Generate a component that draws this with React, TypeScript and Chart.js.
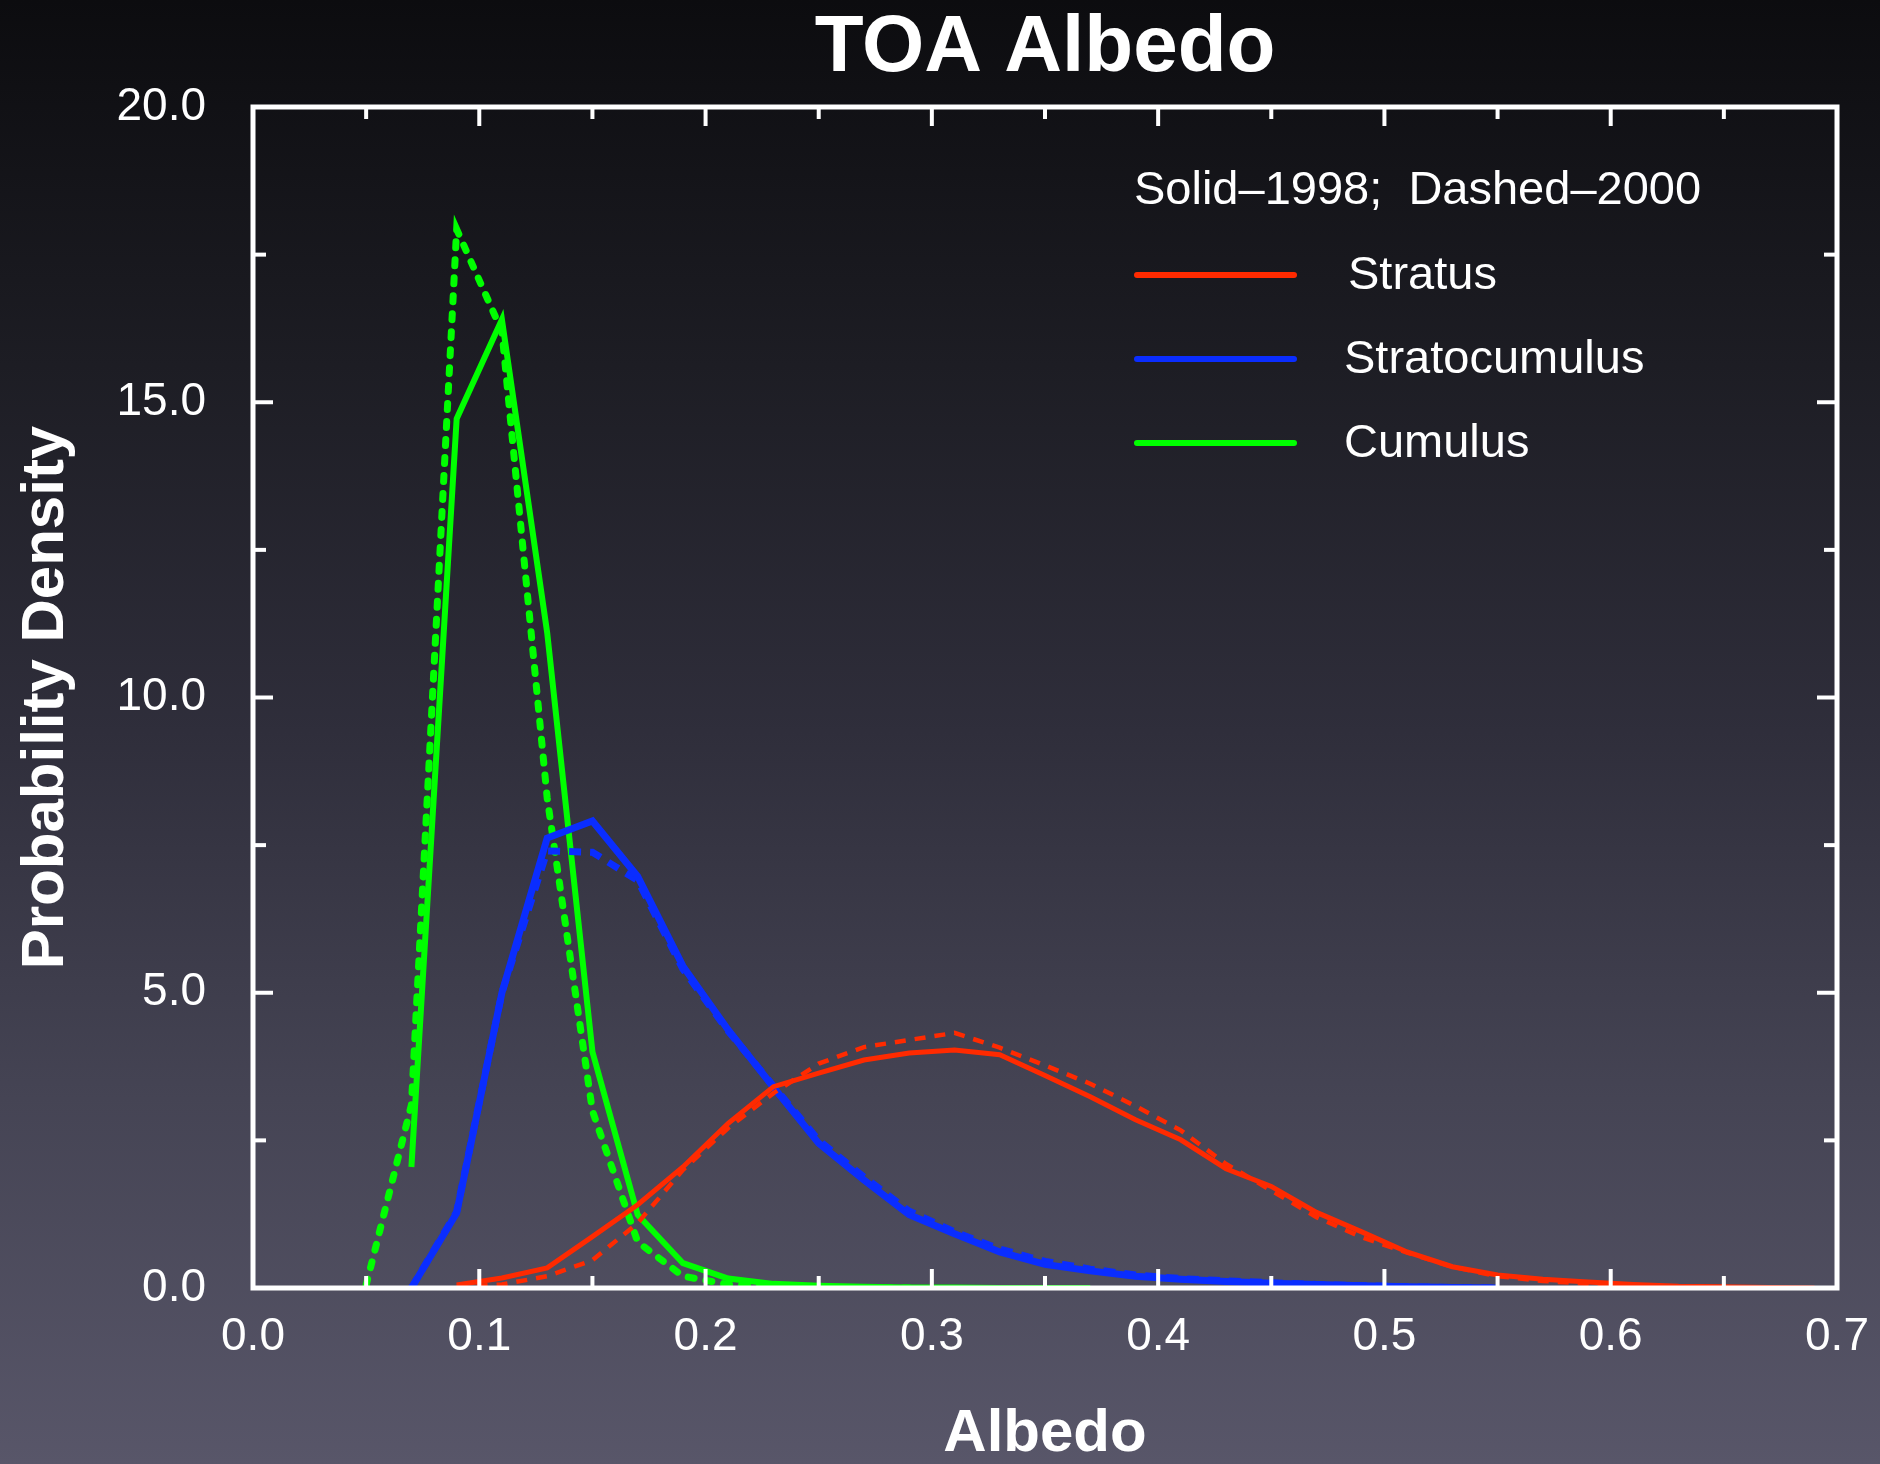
import React, { useEffect, useRef } from 'react';
import { Chart, registerables } from 'chart.js';

Chart.register(...registerables);

// Albedo bin centres (x values)
const albedoBins = [
  0.05, 0.07, 0.09, 0.11, 0.13, 0.15, 0.17, 0.19, 0.21, 0.23, 0.25,
  0.27, 0.29, 0.31, 0.33, 0.35, 0.37, 0.39, 0.41, 0.43, 0.45, 0.47,
  0.49, 0.51, 0.53, 0.55, 0.57, 0.59, 0.61, 0.63, 0.65, 0.67, 0.69,
];

// Probability density values (null = not drawn)
const stratus1998 = [
  null, null, 0.05, 0.17, 0.34, 0.87, 1.41, 2.05, 2.79, 3.41, 3.64,
  3.86, 3.98, 4.03, 3.95, 3.6, 3.24, 2.85, 2.51, 2.02, 1.72, 1.28,
  0.95, 0.61, 0.36, 0.22, 0.15, 0.1, 0.06, 0.03, 0.02, 0.01, 0.0,
];
const stratus2000 = [
  null, null, 0.02, 0.06, 0.2, 0.47, 1.1, 2.0, 2.71, 3.3, 3.8,
  4.08, 4.2, 4.32, 4.07, 3.77, 3.46, 3.08, 2.67, 2.1, 1.65, 1.2,
  0.86, 0.6, 0.36, 0.2, 0.12, 0.07, 0.03, 0.01, 0.0, null, null,
];
const stratocumulus1998 = [
  null, 0.0, 1.27, 5.0, 7.62, 7.91, 6.97, 5.45, 4.37, 3.4, 2.45,
  1.83, 1.24, 0.92, 0.61, 0.4, 0.29, 0.2, 0.15, 0.11, 0.08, 0.06,
  0.04, 0.02, 0.01, 0.0, null, null, null, null, null, null, null,
];
const stratocumulus2000 = [
  null, 0.0, 1.29, 5.0, 7.4, 7.38, 6.9, 5.4, 4.35, 3.42, 2.5,
  1.88, 1.3, 0.95, 0.66, 0.45, 0.32, 0.22, 0.16, 0.12, 0.09, 0.06,
  0.04, 0.02, 0.01, 0.0, null, null, null, null, null, null, null,
];
const cumulus1998 = [
  null, 2.05, 14.72, 16.4, 11.1, 4.0, 1.24, 0.42, 0.16, 0.07, 0.04,
  0.02, 0.01, 0.01, 0.0, 0.0, 0.0, null, null, null, null, null,
  null, null, null, null, null, null, null, null, null, null, null,
];
const cumulus2000 = [
  0.05, 3.1, 17.93, 16.2, 8.3, 3.0, 0.78, 0.2, 0.06, 0.02, 0.01,
  0.0, 0.0, null, null, null, null, null, null, null, null, null,
  null, null, null, null, null, null, null, null, null, null, null,
];

// Axis ticks
const xMajorTicks = [0.1, 0.2, 0.3, 0.4, 0.5, 0.6];
const xMinorTicks = [0.05, 0.15, 0.25, 0.35, 0.45, 0.55, 0.65];
const yMajorTicks = [5, 10, 15];
const yMinorTicks = [2.5, 7.5, 12.5, 17.5];

// Legend
const legendHeader = 'Solid\u20131998;  Dashed\u20132000';
const legendLabels = ['Stratus', 'Stratocumulus', 'Cumulus'];

const RED = '#ff2a00';
const BLUE = '#0a2dff';
const GREEN = '#00ff00';
const legendColors = [RED, BLUE, GREEN];

const FONT = "'Liberation Sans', Arial, Helvetica, sans-serif";

function toPoints(vals: (number | null)[]) {
  return albedoBins
    .map((x, i) => ({ x, y: vals[i] }))
    .filter((p) => p.y !== null) as { x: number; y: number }[];
}

const frameTicksPlugin = {
  id: 'frameTicks',
  afterDatasetsDraw(chart: any) {
    const { ctx, chartArea: a, scales } = chart;
    const xs = scales.x;
    const ys = scales.y;
    ctx.save();
    ctx.strokeStyle = '#ffffff';
    ctx.lineCap = 'butt';
    ctx.lineWidth = 4;
    const seg = (x1: number, y1: number, x2: number, y2: number) => {
      ctx.beginPath();
      ctx.moveTo(x1, y1);
      ctx.lineTo(x2, y2);
      ctx.stroke();
    };
    const drawX = (vals: number[], len: number) => {
      vals.forEach((v) => {
        const px = xs.getPixelForValue(v);
        seg(px, a.bottom, px, a.bottom - len);
        seg(px, a.top, px, a.top + len);
      });
    };
    const drawY = (vals: number[], len: number) => {
      vals.forEach((v) => {
        const py = ys.getPixelForValue(v);
        seg(a.left, py, a.left + len, py);
        seg(a.right, py, a.right - len, py);
      });
    };
    drawX(xMajorTicks, 19);
    drawX(xMinorTicks, 12);
    drawY(yMajorTicks, 20);
    drawY(yMinorTicks, 13);
    ctx.lineWidth = 5;
    ctx.strokeRect(a.left, a.top, a.right - a.left, a.bottom - a.top);
    ctx.restore();
  },
};

const legendPlugin = {
  id: 'customLegend',
  afterDraw(chart: any) {
    const { ctx } = chart;
    ctx.save();
    ctx.fillStyle = '#ffffff';
    ctx.font = `47px ${FONT}`;
    ctx.textAlign = 'left';
    ctx.textBaseline = 'middle';
    ctx.fillText(legendHeader, 1134, 191);
    const rows = [275, 359, 443];
    legendLabels.forEach((label, i) => {
      ctx.strokeStyle = legendColors[i];
      ctx.lineWidth = 6;
      ctx.lineCap = 'round';
      ctx.beginPath();
      ctx.moveTo(1137, rows[i]);
      ctx.lineTo(1294, rows[i]);
      ctx.stroke();
      ctx.fillStyle = '#ffffff';
      ctx.fillText(label, i === 0 ? 1348 : 1344, rows[i] + 1);
    });
    ctx.restore();
  },
};

export default function App() {
  const canvasRef = useRef<HTMLCanvasElement | null>(null);

  useEffect(() => {
    document.body.style.margin = '0';
    document.body.style.overflow = 'hidden';
    const canvas = canvasRef.current;
    if (!canvas) return;

    const chart = new Chart(canvas, {
      type: 'line',
      data: {
        datasets: [
          {
            label: 'Stratus 1998',
            data: toPoints(stratus1998),
            borderColor: RED,
            borderWidth: 5,
            order: 1,
          },
          {
            label: 'Stratus 2000',
            data: toPoints(stratus2000),
            borderColor: RED,
            borderWidth: 4.5,
            borderDash: [11, 9],
            order: 2,
          },
          {
            label: 'Stratocumulus 1998',
            data: toPoints(stratocumulus1998),
            borderColor: BLUE,
            borderWidth: 7,
            order: 3,
          },
          {
            label: 'Stratocumulus 2000',
            data: toPoints(stratocumulus2000),
            borderColor: BLUE,
            borderWidth: 7,
            borderDash: [12, 9],
            order: 4,
          },
          {
            label: 'Cumulus 1998',
            data: toPoints(cumulus1998),
            borderColor: GREEN,
            borderWidth: 6,
            order: 5,
          },
          {
            label: 'Cumulus 2000',
            data: toPoints(cumulus2000),
            borderColor: GREEN,
            borderWidth: 7,
            borderDash: [6, 12],
            borderCapStyle: 'round',
            order: 6,
          },
        ].map((d: any) => ({
          fill: false,
          tension: 0,
          pointRadius: 0,
          pointHoverRadius: 0,
          borderJoinStyle: 'miter',
          ...d,
        })),
      },
      options: {
        responsive: false,
        animation: false,
        devicePixelRatio: 1,
        layout: { padding: { left: 0, right: 43, top: 0, bottom: 0 } },
        plugins: {
          legend: { display: false },
          tooltip: { enabled: false },
          title: {
            display: true,
            text: 'TOA Albedo',
            color: '#ffffff',
            fullSize: false,
            font: { family: FONT, size: 80, weight: 'bold', lineHeight: 1 },
            padding: { top: 9, bottom: 18 },
          },
        },
        scales: {
          x: {
            type: 'linear',
            min: 0,
            max: 0.7,
            afterFit: (s: any) => {
              s.height = 176;
              s.paddingLeft = 0;
              s.paddingRight = 0;
            },
            grid: { display: false, drawTicks: false },
            border: { display: false },
            ticks: {
              stepSize: 0.1,
              color: '#ffffff',
              padding: 26,
              maxRotation: 0,
              font: { family: FONT, size: 46, lineHeight: 1 },
              callback: (v: any) => Number(v).toFixed(1),
            },
            title: {
              display: true,
              text: 'Albedo',
              color: '#ffffff',
              font: { family: FONT, size: 60, weight: 'bold', lineHeight: 1 },
              padding: { top: 0, bottom: 0 },
            },
          },
          y: {
            type: 'linear',
            min: 0,
            max: 20,
            afterFit: (s: any) => {
              s.width = 253;
              s.paddingTop = 0;
              s.paddingBottom = 0;
            },
            grid: { display: false, drawTicks: false },
            border: { display: false },
            ticks: {
              stepSize: 5,
              color: '#ffffff',
              padding: 47,
              font: { family: FONT, size: 46, lineHeight: 1 },
              callback: (v: any) => Number(v).toFixed(1),
            },
            title: {
              display: true,
              text: 'Probability Density',
              color: '#ffffff',
              font: { family: FONT, size: 60, weight: 'bold', lineHeight: 1 },
              padding: { top: 16, bottom: 0 },
            },
          },
        },
      },
      plugins: [frameTicksPlugin, legendPlugin],
    } as any);

    return () => {
      chart.destroy();
    };
  }, []);

  return (
    <div
      style={{
        position: 'absolute',
        left: 0,
        top: 0,
        width: 1880,
        height: 1464,
        overflow: 'hidden',
        background:
          'linear-gradient(to bottom, #0c0c0f 0%, #1d1d24 25%, #2f2e3b 50%, #454454 75%, #585669 100%)',
        backgroundColor: '#2f2e3b',
      }}
    >
      <canvas ref={canvasRef} width={1880} height={1464} style={{ display: 'block' }} />
    </div>
  );
}
